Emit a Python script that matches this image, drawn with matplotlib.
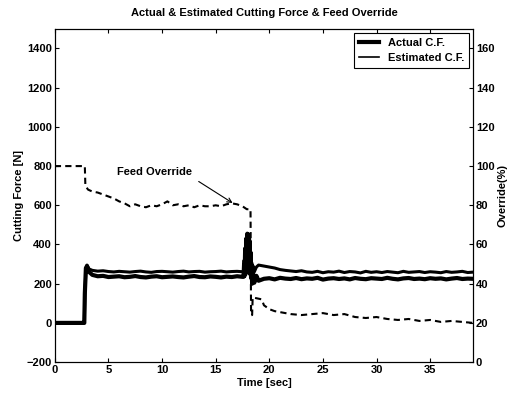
import numpy as np
import matplotlib.pyplot as plt

plt.rcParams['font.family'] = ['Liberation Sans', 'DejaVu Sans']
plt.rcParams['font.weight'] = 'bold'
plt.rcParams['axes.titleweight'] = 'bold'
plt.rcParams['axes.labelweight'] = 'bold'
plt.rcParams['font.size'] = 8

# cutting force samples [N]
t_force = np.concatenate([[0, 0.5, 1, 1.5, 2, 2.5, 2.75, 2.8, 2.9, 3.0, 3.2],
                          np.arange(3.5, 17.51, 0.5),
                          [17.6, 17.65, 17.7, 17.75, 17.8, 17.85, 17.9, 17.95, 18.0,
                           18.05, 18.1, 18.15, 18.2, 18.25, 18.3, 18.35, 18.4,
                           18.5, 18.6, 18.8, 19.0],
                          np.arange(19.5, 39.01, 0.5)])
actual_cf = [0, 0, 0, 0, 0, 0, 0, 150, 280, 290, 260,
             245, 238, 240, 234, 236, 238, 233, 235, 239, 234, 232, 236, 238, 233, 235,
             237, 234, 232, 236, 239, 234, 233, 237, 235, 232, 236, 234, 238, 235,
             235, 300, 240, 380, 250, 430, 260, 455, 270,
             450, 260, 420, 250, 360, 230, 300, 200,
             250, 205, 240, 215,
             225, 228, 222, 230, 226, 224, 229, 223, 227, 225, 230, 221, 226, 228, 224,
             227, 222, 229, 225, 223, 228, 226, 224, 230, 225, 222, 227, 229, 224, 226,
             223, 228, 225, 227, 222, 226, 229, 224, 226, 225]
estimated_cf = [0, 0, 0, 0, 0, 0, 0, 140, 270, 295, 275,
                268, 264, 266, 262, 260, 263, 261, 259, 262, 264, 260, 258, 262, 263, 261,
                259, 262, 264, 260, 262, 263, 259, 261, 262, 264, 260, 262, 263, 261,
                265, 320, 270, 360, 280, 410, 290, 440, 300,
                430, 290, 400, 280, 350, 270, 310, 240,
                290, 260, 285, 295,
                290, 285, 280, 272, 268, 265, 262, 266, 260, 258, 263, 256, 261, 259, 264,
                257, 262, 260, 255, 263, 258, 261, 257, 262, 259, 256, 263, 258, 260, 262,
                257, 261, 259, 256, 262, 258, 260, 263, 257, 259]

# feed override samples [%]
t_override = np.concatenate([[0, 2.8, 2.85, 3.1],
                             np.arange(3.5, 17.51, 0.5),
                             [17.9, 18.25, 18.3, 18.4, 18.45, 19.3, 19.5, 20, 20.5, 21],
                             np.arange(22, 39.01, 1)])
override = [100, 100, 90, 88,
            87, 86.5, 85.5, 84.5, 83.5, 82, 81, 79.5, 80.5, 79.5, 79, 80, 79.5, 80.5, 82,
            80, 80.5, 79.5, 80, 79, 80, 79.5, 79.5, 80, 79.5, 80.5, 81, 80.5, 79.5,
            78, 78, 24, 24, 33, 32, 29, 27, 26, 25.5,
            24.5, 24, 24.5, 25, 24, 24.5, 23, 22.5, 23, 22, 21.5, 22, 21, 21.5, 20.5, 21, 20.5, 20]

fig = plt.figure(figsize=(5.17, 4.01), dpi=100)
ax = fig.add_axes([0.106, 0.097, 0.809, 0.831])
ax2 = ax.twinx()

ax.plot(t_force, actual_cf, color='black', lw=3.0, label='Actual C.F.')
ax.plot(t_force, estimated_cf, color='black', lw=2.2, label='Estimated C.F.')
ax2.plot(t_override, override, color='black', lw=1.5, ls=(0, (3, 2)))

ax.set_xlim(0, 39)
ax.set_ylim(-200, 1500)
ax2.set_ylim(0, 170)
ax.set_xticks(range(0, 36, 5))
ax.set_yticks(range(-200, 1401, 200))
ax2.set_yticks(range(0, 161, 20))
ax.tick_params(direction='in', top=True, length=3, pad=2)
ax2.tick_params(direction='in', length=3, pad=2)

ax.set_title('Actual & Estimated Cutting Force & Feed Override', fontsize=8, pad=9)
ax.set_xlabel('Time [sec]', labelpad=2)
ax.set_ylabel('Cutting Force [N]', labelpad=2)
ax2.set_ylabel('Override(%)', labelpad=2)

ax.text(5.8, 770, 'Feed Override', va='center', ha='left')
ax.annotate('', xy=(16.8, 604), xytext=(13.2, 729),
            arrowprops=dict(arrowstyle='->', color='black', lw=0.8))

leg = ax.legend(loc='upper right', fancybox=False, edgecolor='black',
                handlelength=1.8, borderaxespad=0.4, framealpha=1)
leg.get_frame().set_linewidth(0.8)
leg.get_lines()[1].set_linewidth(1.2)

fig.savefig('out.png', dpi=100)
